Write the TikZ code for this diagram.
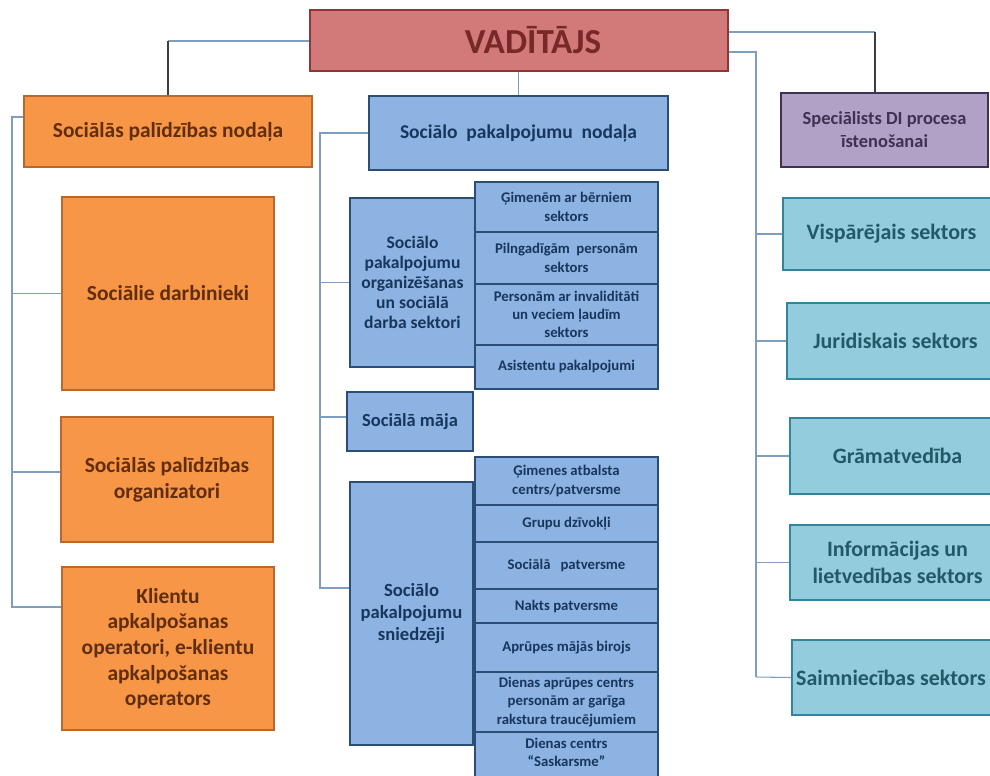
\documentclass[tikz,border=0pt]{standalone}
\usepackage{fontspec}
\setmainfont{Carlito}
\definecolor{vadfill}{RGB}{210,122,122}
\definecolor{vaddraw}{RGB}{140,56,56}
\definecolor{vadtext}{RGB}{120,40,40}
\definecolor{orfill}{RGB}{247,150,70}
\definecolor{ordraw}{RGB}{184,104,44}
\definecolor{ortext}{RGB}{96,46,14}
\definecolor{blfill}{RGB}{141,179,226}
\definecolor{bldraw}{RGB}{44,77,117}
\definecolor{bltext}{RGB}{23,54,93}
\definecolor{pufill}{RGB}{178,161,199}
\definecolor{pudraw}{RGB}{63,49,81}
\definecolor{putext}{RGB}{63,49,81}
\definecolor{tefill}{RGB}{147,205,221}
\definecolor{tedraw}{RGB}{49,133,156}
\definecolor{tetext}{RGB}{33,89,104}
\definecolor{connl}{RGB}{127,157,192}
\definecolor{connd}{RGB}{60,60,60}
\newcommand\bx[7]{\node[#1, minimum width={(#5-#3)*0.02cm}, minimum height={(#6-#4)*0.02cm}] (#2) at ({(#3+#5)/2},{(#4+#6)/2}) {#7};}
\tikzset{
  base/.style={rectangle, inner sep=1pt, align=center, font=\bfseries},
  vadbox/.style={base, fill=vadfill, draw=vaddraw, line width=1.4pt, text=vadtext, font=\bfseries\fontsize{20}{24}\selectfont},
  orbox/.style={base, fill=orfill, draw=ordraw, line width=1.1pt, text=ortext, font=\bfseries\fontsize{12.2}{14.6}\selectfont},
  blbox/.style={base, fill=blfill, draw=bldraw, line width=1.4pt, text=bltext, font=\bfseries\fontsize{11.1}{13}\selectfont},
  blmid/.style={blbox, font=\bfseries\fontsize{10}{11.4}\selectfont},
  blsnie/.style={blbox, font=\bfseries\fontsize{10.6}{12.3}\selectfont},
  blmaja/.style={blbox, font=\bfseries\fontsize{10.5}{12}\selectfont},
  blsub/.style={blbox, font=\bfseries\fontsize{8.4}{10.4}\selectfont},
  pubox/.style={base, fill=pufill, draw=pudraw, line width=1.4pt, text=putext, font=\bfseries\fontsize{10.5}{13}\selectfont},
  tebox/.style={base, fill=tefill, draw=tedraw, line width=1.2pt, text=tetext, font=\bfseries\fontsize{12.5}{15}\selectfont},
  conn/.style={draw=connl, line width=0.6pt},
  connk/.style={draw=connd, line width=0.6pt},
}
\begin{document}
\begin{tikzpicture}[x=0.02cm,y=-0.02cm]
\useasboundingbox[fill=white] (0,0) rectangle (990,775);
% top
\bx{vadbox}{vad}{310}{10}{728}{71}{\hspace*{0.56cm}VADĪTĀJS}
% left column
\bx{orbox}{spn}{24}{96}{312}{167}{Sociālās palīdzības nodaļa}
\bx{orbox}{darb}{62}{197}{274}{390}{Sociālie darbinieki}
\bx{orbox}{orgz}{61}{417}{273}{542}{Sociālās palīdzības\\organizatori}
\bx{orbox}{klient}{62}{567}{274}{730}{Klientu\\apkalpošanas\\operatori, e-klientu\\apkalpošanas\\operators}
% middle column
\bx{blbox}{spa}{369}{96}{668}{170}{Sociālo\ \ pakalpojumu\ \ nodaļa}
\bx{blmid}{orgs}{350}{198}{475}{367}{Sociālo\\pakalpojumu\\organizēšanas\\un sociālā\\darba sektori}
\bx{blsub}{s1}{475}{182}{658}{232}{Ģimenēm ar bērniem\\sektors}
\bx{blsub}{s2}{475}{232}{658}{284}{Pilngadīgām\ \ personām\\sektors}
\bx{blsub}{s3}{475}{284}{658}{345}{Personām ar invaliditāti\\un veciem ļaudīm\\sektors}
\bx{blsub}{s4}{475}{345}{658}{389}{Asistentu pakalpojumi}
\bx{blmaja}{maja}{347}{392}{473}{451}{Sociālā māja}
\bx{blsnie}{snie}{350}{482}{473}{745}{Sociālo\\pakalpojumu\\sniedzēji}
\bx{blsub}{p1}{475}{457}{658}{505}{Ģimenes atbalsta\\centrs/patversme}
\bx{blsub}{p2}{475}{505}{658}{542}{Grupu dzīvokļi}
\bx{blsub}{p3}{475}{542}{658}{589}{Sociālā\ \ \ patversme}
\bx{blsub}{p4}{475}{589}{658}{623}{Nakts patversme}
\bx{blsub}{p5}{475}{623}{658}{672}{Aprūpes mājās\ birojs}
\bx{blsub}{p6}{475}{672}{658}{732}{Dienas aprūpes centrs\\personām ar garīga\\rakstura traucējumiem}
\bx{blsub}{p7}{475}{732}{658}{797}{Dienas centrs\\“Saskarsme”\\\strut}
% right column
\bx{pubox}{spec}{781}{93}{988}{167}{Speciālists DI procesa\\īstenošanai}
\bx{tebox}{vis}{783}{198}{1000}{270}{Vispārējais sektors}
\bx{tebox}{jur}{787}{303}{1004}{379}{Juridiskais sektors}
\bx{tebox}{gram}{790}{418}{1005}{494}{Grāmatvedība}
\bx{tebox}{inf}{790}{525}{1005}{600}{Informācijas un\\lietvedības sektors}
\bx{tebox}{saim}{792}{640}{1010}{715}{\hspace*{-0.4cm}Saimniecības sektors}
% connectors from the head
\coordinate (lt) at (168,41);
\draw[conn] (vad.west |- lt) -- (lt);
\draw[connk] (lt) -- (lt |- spn.north);
\draw[conn] (vad.south -| spa.north) -- (spa.north);
\coordinate (rt) at (875,32);
\draw[conn] (vad.east |- rt) -- (rt);
\draw[connk] (rt) -- (rt |- spec.north);
\coordinate (rb) at (756,52);
\coordinate (rbe) at (756,677);
\draw[conn] (vad.east |- rb) -- (rb) -- (rbe);
\draw[conn] (rb |- vis.west) -- (vis.west);
\draw[conn] (rb |- jur.west) -- (jur.west);
\draw[conn] (rb |- gram.west) -- (gram.west);
\draw[conn] (rb |- inf.west) -- (inf.west);
\draw[conn] (rbe) -- (saim.west);
% left bus
\coordinate (lb) at (12,117);
\coordinate (lbe) at (12,607);
\draw[conn] (spn.west |- lb) -- (lb) -- (lbe) -- (lbe -| klient.west);
\draw[conn] (lb |- darb.west) -- (darb.west);
\coordinate (lbo) at (12,472);
\draw[conn] (lbo) -- (lbo -| orgz.west);
% middle bus
\coordinate (mb) at (320,133);
\coordinate (mbe) at (320,588);
\draw[conn] (spa.west |- mb) -- (mb) -- (mbe) -- (mbe -| snie.west);
\draw[conn] (mb |- orgs.west) -- (orgs.west);
\coordinate (mbm) at (320,417);
\draw[conn] (mbm) -- (mbm -| maja.west);
\end{tikzpicture}
\end{document}
